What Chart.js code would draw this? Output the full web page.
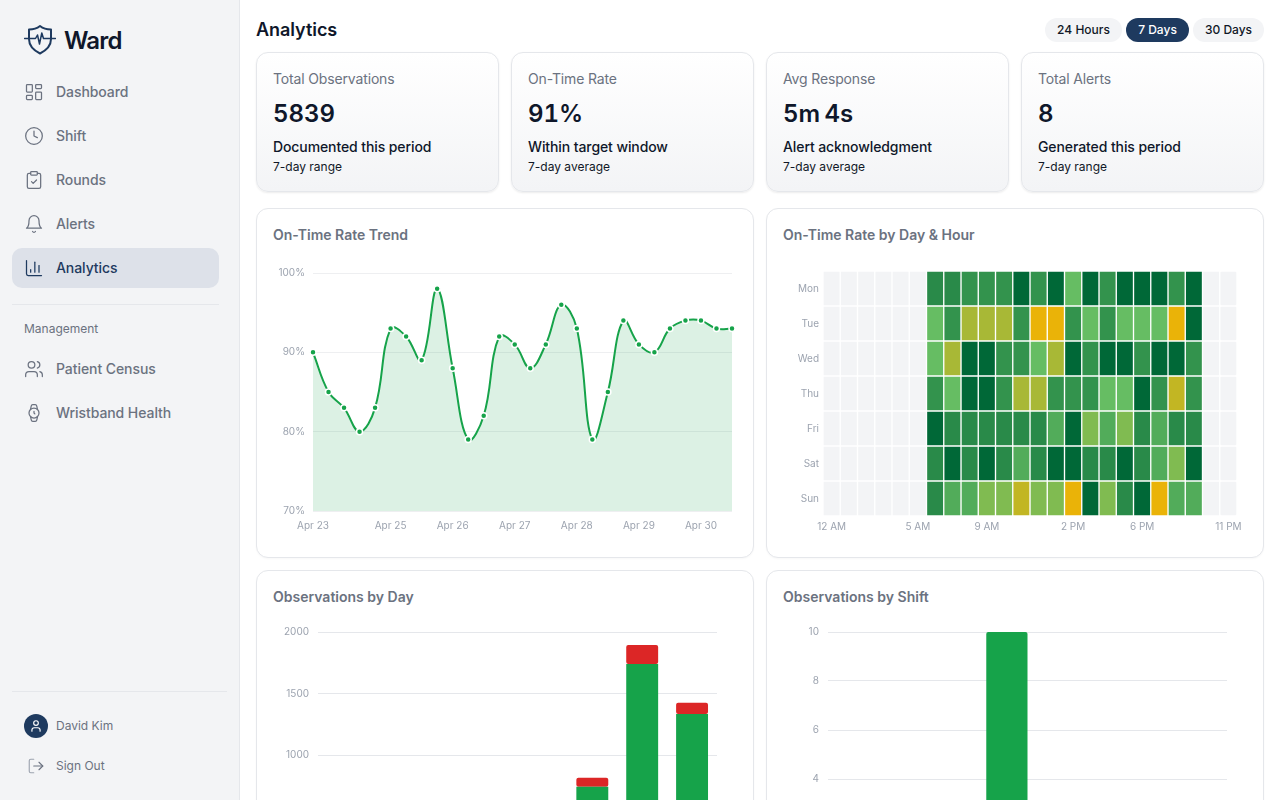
<!DOCTYPE html>
<html>
<head>
<meta charset="utf-8">
<title>Ward Analytics</title>
<script src="https://cdn.jsdelivr.net/npm/chart.js@4"></script>
<style>
    * { box-sizing: border-box; }
    html, body { margin: 0; width: 1280px; height: 800px; overflow: hidden; background: #fff; }
    body { font-family: Inter, sans-serif; color: #0f172a; position: relative; }

    .sidebar { position: absolute; left: 0; top: 0; width: 240px; height: 800px; background: #f3f4f6; border-right: 1px solid #e5e7eb; }
    .logo { position: absolute; left: 24px; top: 24px; }
    .brand { position: absolute; left: 64px; top: 26px; font-size: 24px; line-height: 30px; font-weight: 600; letter-spacing: -0.8px; }
    .nav { position: absolute; left: 12px; width: 207px; height: 40px; border-radius: 10px; color: #6b7280; font-size: 14px; font-weight: 500; line-height: 40px; padding-left: 44px; letter-spacing: -0.07px; }
    .nav svg { position: absolute; left: 12px; top: 10px; }
    .nav.active { background: #dde1e9; color: #1e3a5f; }
    .rule { position: absolute; left: 12px; height: 1px; background: #e5e7eb; }
    .group { position: absolute; left: 24px; top: 321px; font-size: 12px; line-height: 15px; color: #6b7280; }
    .avatar { position: absolute; left: 24px; top: 714px; width: 24px; height: 24px; border-radius: 50%; background: #1e3a5f; }
    .avatar svg { position: absolute; left: 5px; top: 5px; }
    .foot { position: absolute; left: 56px; font-size: 12px; line-height: 16px; color: #6b7280; }
    .signout { position: absolute; left: 27px; top: 757px; }

    h1 { position: absolute; left: 256px; top: 18px; margin: 0; font-size: 18px; line-height: 23px; font-weight: 600; color: #0f172a; letter-spacing: -0.05px; }
    .pill { position: absolute; top: 18px; height: 24px; border-radius: 12px; background: #f3f4f6; color: #111827; font-size: 12px; font-weight: 500; line-height: 24px; text-align: center; }
    .pill.active { background: #1e3a5f; color: #fff; }

    .stat { position: absolute; top: 52px; width: 243px; height: 140px; border: 1px solid #e5e7eb; border-radius: 12px; background: linear-gradient(#ffffff, #f3f4f6); box-shadow: 0 1px 2px rgba(0,0,0,0.08); }
    .stat div { position: absolute; left: 16px; white-space: nowrap; }
    .stat .label { top: 17px; font-size: 14px; line-height: 18px; color: #6b7280; letter-spacing: -0.15px; }
    .stat .value { top: 46px; font-size: 24px; line-height: 30px; font-weight: 600; color: #0f172a; word-spacing: -2px; font-variant-numeric: tabular-nums; }
    .stat .sub { top: 85px; font-size: 14px; line-height: 18px; font-weight: 500; color: #0f172a; letter-spacing: -0.1px; }
    .stat .note { top: 106px; font-size: 12px; line-height: 16px; color: #111827; }

    .card { position: absolute; width: 498px; height: 350px; border: 1px solid #e5e7eb; border-radius: 12px; background: #fff; box-shadow: 0 1px 2px rgba(0,0,0,0.03); }
    .card .title { position: absolute; left: 16px; top: 17px; font-size: 14px; line-height: 18px; font-weight: 600; color: #6b7280; }
    canvas { position: absolute; }
</style>
</head>
<body>

<div class="sidebar">
    <svg class="logo" width="32" height="32" viewBox="24 24 32 32" fill="none" stroke="#1e3a5f" stroke-width="2" stroke-linejoin="round" stroke-linecap="round">
        <path d="M40 26C36.5 28.8 32.5 29.5 29 29.5V39C29 47 35 51 40 53.5C45 51 51 47 51 39V29.5C47.5 29.5 43.5 28.8 40 26Z"/>
        <path d="M24.5 38.5H35.5L37.5 35L39.5 44L41.8 33L43.5 38.5H55.5" stroke-width="1.5"/>
    </svg>
    <div class="brand">Ward</div>

    <div class="nav" style="top:72px"><svg width="20" height="20" viewBox="0 0 24 24" fill="none" stroke="currentColor" stroke-width="1.5" stroke-linecap="round" stroke-linejoin="round"><rect x="3" y="3" width="7" height="9" rx="1"/><rect x="14" y="3" width="7" height="5" rx="1"/><rect x="14" y="12" width="7" height="9" rx="1"/><rect x="3" y="16" width="7" height="5" rx="1"/></svg>Dashboard</div>
    <div class="nav" style="top:116px"><svg width="20" height="20" viewBox="0 0 24 24" fill="none" stroke="currentColor" stroke-width="1.5" stroke-linecap="round" stroke-linejoin="round"><circle cx="12" cy="12" r="10"/><polyline points="12 6 12 12 16 14"/></svg>Shift</div>
    <div class="nav" style="top:160px"><svg width="20" height="20" viewBox="0 0 24 24" fill="none" stroke="currentColor" stroke-width="1.5" stroke-linecap="round" stroke-linejoin="round"><rect x="8" y="2" width="8" height="4" rx="1"/><path d="M16 4h2a2 2 0 0 1 2 2v14a2 2 0 0 1-2 2H6a2 2 0 0 1-2-2V6a2 2 0 0 1 2-2h2"/><path d="m9 14 2 2 4-4"/></svg>Rounds</div>
    <div class="nav" style="top:204px"><svg width="20" height="20" viewBox="0 0 24 24" fill="none" stroke="currentColor" stroke-width="1.5" stroke-linecap="round" stroke-linejoin="round"><path d="M6 8a6 6 0 0 1 12 0c0 7 3 9 3 9H3s3-2 3-9"/><path d="M10.3 21a1.94 1.94 0 0 0 3.4 0"/></svg>Alerts</div>
    <div class="nav active" style="top:248px"><svg width="20" height="20" viewBox="0 0 24 24" fill="none" stroke="currentColor" stroke-width="1.5" stroke-linecap="round" stroke-linejoin="round"><path d="M3 3v16a2 2 0 0 0 2 2h16"/><path d="M8 17v-3"/><path d="M13 17V5"/><path d="M18 17V9"/></svg>Analytics</div>

    <div class="rule" style="top:304px;width:207px"></div>
    <div class="group">Management</div>

    <div class="nav" style="top:349px"><svg width="20" height="20" viewBox="0 0 24 24" fill="none" stroke="currentColor" stroke-width="1.5" stroke-linecap="round" stroke-linejoin="round"><path d="M16 21v-2a4 4 0 0 0-4-4H6a4 4 0 0 0-4 4v2"/><circle cx="9" cy="7" r="4"/><path d="M22 21v-2a4 4 0 0 0-3-3.87"/><path d="M16 3.13a4 4 0 0 1 0 7.75"/></svg>Patient Census</div>
    <div class="nav" style="top:393px"><svg width="20" height="20" viewBox="0 0 24 24" fill="none" stroke="currentColor" stroke-width="1.5" stroke-linecap="round" stroke-linejoin="round"><circle cx="12" cy="12" r="6"/><polyline points="12 10 12 12 13 13"/><path d="m16.13 7.66-.81-4.05a2 2 0 0 0-2-1.61h-2.68a2 2 0 0 0-2 1.61l-.78 4.05"/><path d="m7.88 16.36.8 4a2 2 0 0 0 2 1.61h2.72a2 2 0 0 0 2-1.61l.81-4.05"/></svg>Wristband Health</div>

    <div class="rule" style="top:691px;width:215px"></div>
    <div class="avatar"><svg width="14" height="14" viewBox="0 0 24 24" fill="none" stroke="#fff" stroke-width="2" stroke-linecap="round" stroke-linejoin="round"><path d="M19 21v-2a4 4 0 0 0-4-4H9a4 4 0 0 0-4 4v2"/><circle cx="12" cy="7" r="4"/></svg></div>
    <div class="foot" style="top:718px">David Kim</div>
    <svg class="signout" width="18" height="18" viewBox="0 0 24 24" fill="none" stroke="#6b7280" stroke-width="1.5" stroke-linecap="round" stroke-linejoin="round"><path d="M9 21H5a2 2 0 0 1-2-2V5a2 2 0 0 1 2-2h4" stroke="#9ca3af"/><polyline points="16 17 21 12 16 7"/><line x1="21" y1="12" x2="9" y2="12"/></svg>
    <div class="foot" style="top:758px">Sign Out</div>
</div>

<h1>Analytics</h1>
<div class="pill" style="left:1045px;width:77px">24 Hours</div>
<div class="pill active" style="left:1126px;width:63px">7 Days</div>
<div class="pill" style="left:1193px;width:71px">30 Days</div>

<div class="stat" style="left:256px"><div class="label">Total Observations</div><div class="value">5839</div><div class="sub">Documented this period</div><div class="note">7-day range</div></div>
<div class="stat" style="left:511px"><div class="label">On-Time Rate</div><div class="value">91%</div><div class="sub">Within target window</div><div class="note">7-day average</div></div>
<div class="stat" style="left:766px"><div class="label">Avg Response</div><div class="value">5m 4s</div><div class="sub">Alert acknowledgment</div><div class="note">7-day average</div></div>
<div class="stat" style="left:1021px"><div class="label">Total Alerts</div><div class="value">8</div><div class="sub">Generated this period</div><div class="note">7-day range</div></div>

<div class="card" style="left:256px;top:208px"><div class="title">On-Time Rate Trend</div></div>
<div class="card" style="left:766px;top:208px"><div class="title">On-Time Rate by Day &amp; Hour</div></div>
<div class="card" style="left:256px;top:570px"><div class="title">Observations by Day</div></div>
<div class="card" style="left:766px;top:570px"><div class="title">Observations by Shift</div></div>

<canvas id="trend-chart" width="480" height="272" style="left:263px;top:263px"></canvas>
<canvas id="heat-chart" width="480" height="279" style="left:773px;top:261px"></canvas>
<canvas id="day-chart" width="480" height="280" style="left:263px;top:622px"></canvas>
<canvas id="shift-chart" width="480" height="279" style="left:773px;top:622px"></canvas>

<script>
// On-time rate trend, one label per tick that is shown
const trendTicks = ['Apr 23', '', '', '', '', 'Apr 25', '', '', '', 'Apr 26', '', '', '', 'Apr 27', '', '', '', 'Apr 28', '', '', '', 'Apr 29', '', '', '', 'Apr 30', '', ''];
const trendRates = [90, 85, 83, 80, 83, 93, 92, 89, 98, 88, 79, 82, 92, 91, 88, 91, 96, 93, 79, 85, 94, 91, 90, 93, 94, 94, 93, 93];

// Heatmap: rate per hour for each day, null where nothing was recorded
const heatDays = ['Mon', 'Tue', 'Wed', 'Thu', 'Fri', 'Sat', 'Sun'];
const heatHourTicks = [0, 5, 9, 14, 18, 23];
const heatHourLabels = ['12 AM', '5 AM', '9 AM', '2 PM', '6 PM', '11 PM'];
const n = null;
const heatMon = [n, n, n, n, n, n, 96, 96, 95, 95, 95, 100, 95, 100, 90, 100, 95, 100, 100, 100, 95, 100, n, n];
const heatTue = [n, n, n, n, n, n, 90, 95, 85, 85, 85, 95, 80, 80, 95, 90, 95, 90, 90, 90, 80, 100, n, n];
const heatWed = [n, n, n, n, n, n, 90, 85, 100, 100, 95, 95, 90, 85, 100, 95, 100, 100, 95, 100, 100, 95, n, n];
const heatThu = [n, n, n, n, n, n, 95, 90, 100, 100, 95, 85, 85, 95, 95, 95, 90, 90, 100, 95, 83, 95, n, n];
const heatFri = [n, n, n, n, n, n, 100, 96, 96, 96, 96, 96, 96, 92, 100, 88, 92, 88, 96, 92, 96, 96, n, n];
const heatSat = [n, n, n, n, n, n, 96, 100, 96, 100, 96, 92, 96, 100, 100, 96, 96, 100, 96, 92, 88, 100, n, n];
const heatSun = [n, n, n, n, n, n, 96, 92, 92, 88, 88, 83, 88, 88, 80, 100, 88, 96, 100, 80, 92, 92, n, n];
const heatRows = [heatMon, heatTue, heatWed, heatThu, heatFri, heatSat, heatSun];

// Observations by day (the first five bars sit below the fold, estimated from the total)
const obsDays = ['Apr 23', 'Apr 24', 'Apr 25', 'Apr 26', 'Apr 27', 'Apr 28', 'Apr 29', 'Apr 30'];
const obsOnTime = [310, 390, 245, 345, 260, 742, 1740, 1333];
const obsLate = [30, 40, 25, 35, 25, 73, 154, 92];

// Observations by shift
const shiftNames = ['Day', 'Evening', 'Night'];
const shiftOnTime = [0, 10, 0];
const shiftLate = [0, 0, 0];

const GREEN = '#16a34a';
const RED = '#dc2626';

Chart.defaults.font.family = 'Inter, sans-serif';
Chart.defaults.font.size = 10;
Chart.defaults.color = '#9ca3af';
Chart.defaults.animation = false;
Chart.defaults.plugins.legend.display = false;
Chart.defaults.responsive = false;

function rateColor(rate) {
    if (rate === null) return '#f3f4f6';
    const stops = [[80, [234, 179, 8]], [90, [102, 189, 99]], [100, [0, 104, 55]]];
    const upper = rate <= 90 ? 1 : 2;
    const [r0, c0] = stops[upper - 1];
    const [r1, c1] = stops[upper];
    const t = (rate - r0) / (r1 - r0);
    const mix = c0.map((c, i) => Math.round(c + (c1[i] - c) * t));
    return `rgb(${mix[0]}, ${mix[1]}, ${mix[2]})`;
}

// Pin the y axis width and drop the padding it asks for, so the plot edges stay put
function fitYAxis(width) {
    return scale => {
        scale.width = width;
        scale.paddingTop = 0;
        scale.paddingBottom = 0;
    };
}

new Chart(document.getElementById('trend-chart'), {
    type: 'line',
    data: {
        labels: trendTicks,
        datasets: [{
            data: trendRates,
            borderColor: GREEN,
            borderWidth: 2,
            backgroundColor: 'rgba(22, 163, 74, 0.15)',
            fill: 'origin',
            tension: 0.4,
            pointRadius: 3,
            pointBackgroundColor: GREEN,
            pointBorderColor: '#fff',
            pointBorderWidth: 1.5,
        }]
    },
    options: {
        layout: { padding: { top: 10, right: 11 } },
        scales: {
            x: {
                grid: { display: false, drawTicks: false },
                border: { display: false },
                ticks: { autoSkip: false, maxRotation: 0, padding: 9 },
                afterFit: scale => { scale.height = 24; },
            },
            y: {
                min: 70,
                max: 100,
                grid: { color: '#eeeff1', drawTicks: false },
                border: { display: false },
                ticks: { stepSize: 10, padding: 8, callback: v => v + '%' },
                afterFit: fitYAxis(50),
            }
        }
    }
});

// One stacked series per hour, each cell is one hour wide
const heatDatasets = [];
for (let hour = 0; hour < 24; hour++) {
    heatDatasets.push({
        data: heatRows.map(() => 1),
        backgroundColor: heatRows.map(row => rateColor(row[hour])),
        borderColor: '#fff',
        borderWidth: 1,
        borderRadius: 2,
        borderSkipped: false,
        barPercentage: 1,
        categoryPercentage: 1,
    });
}

new Chart(document.getElementById('heat-chart'), {
    type: 'bar',
    data: { labels: heatDays, datasets: heatDatasets },
    options: {
        indexAxis: 'y',
        layout: { padding: { top: 10, right: 16 } },
        plugins: { tooltip: { enabled: false } },
        scales: {
            x: {
                stacked: true,
                min: 0,
                max: 24,
                grid: { display: false, drawTicks: false },
                border: { display: false },
                afterBuildTicks: scale => {
                    scale.ticks = heatHourTicks.map(hour => ({ value: hour + 0.5 }));
                },
                ticks: {
                    autoSkip: false,
                    maxRotation: 0,
                    padding: 5,
                    callback: (v, i) => heatHourLabels[i],
                },
                afterFit: scale => { scale.height = 24; },
            },
            y: {
                stacked: true,
                grid: { display: false, drawTicks: false },
                border: { display: false },
                ticks: { padding: 4 },
                afterFit: fitYAxis(50),
            }
        }
    }
});

new Chart(document.getElementById('day-chart'), {
    type: 'bar',
    data: {
        labels: obsDays,
        datasets: [
            { data: obsOnTime, backgroundColor: GREEN, borderRadius: 2, borderSkipped: false, barPercentage: 0.8 },
            { data: obsLate, backgroundColor: RED, borderRadius: 2, borderSkipped: false, barPercentage: 0.8 },
        ]
    },
    options: {
        layout: { padding: { top: 10, right: 26 } },
        scales: {
            x: {
                stacked: true,
                grid: { display: false, drawTicks: false },
                border: { display: false },
                ticks: { padding: 8 },
                afterFit: scale => { scale.height = 24; },
            },
            y: {
                stacked: true,
                min: 0,
                max: 2000,
                grid: { color: '#e5e7eb', drawTicks: false },
                border: { display: false },
                ticks: { stepSize: 500, padding: 9, callback: v => String(v) },
                afterFit: fitYAxis(55),
            }
        }
    }
});

new Chart(document.getElementById('shift-chart'), {
    type: 'bar',
    data: {
        labels: shiftNames,
        datasets: [
            { data: shiftOnTime, backgroundColor: GREEN, borderRadius: 2, barPercentage: 1, categoryPercentage: 0.62 },
            { data: shiftLate, backgroundColor: RED, borderRadius: 2, barPercentage: 1, categoryPercentage: 0.62 },
        ]
    },
    options: {
        layout: { padding: { top: 10, right: 26 } },
        scales: {
            x: {
                grid: { display: false, drawTicks: false },
                border: { display: false },
                ticks: { padding: 8 },
                afterFit: scale => { scale.height = 24; },
            },
            y: {
                min: 0,
                max: 10,
                grid: { color: '#e5e7eb', drawTicks: false },
                border: { display: false },
                ticks: { stepSize: 2, padding: 9 },
                afterFit: fitYAxis(55),
            }
        }
    }
});
</script>
</body>
</html>
